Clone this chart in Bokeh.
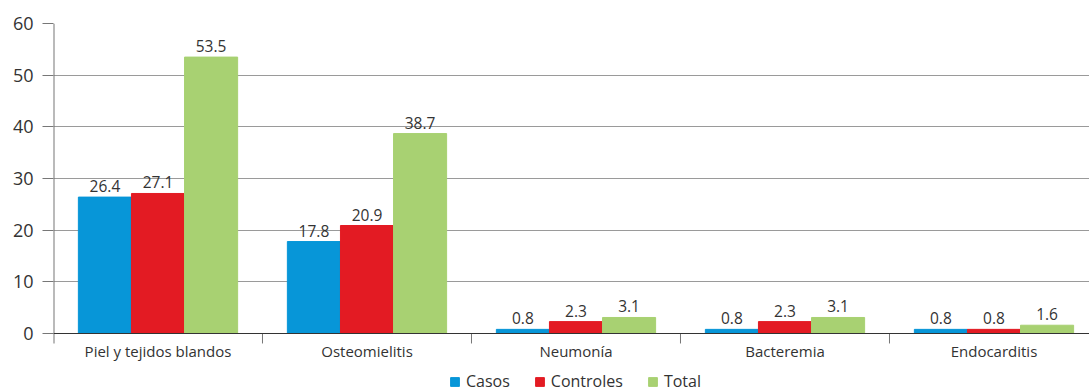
from bokeh.plotting import figure
from bokeh.models import ColumnDataSource, Range1d, FixedTicker, Span, Legend, LegendItem, LabelSet
from bokeh.core.properties import value
from bokeh.embed import file_html
from bokeh.resources import INLINE

categories = ["Piel y tejidos blandos", "Osteomielitis", "Neumonía", "Bacteremia", "Endocarditis"]
casos = [26.4, 17.8, 0.8, 0.8, 0.8]
controles = [27.1, 20.9, 2.3, 2.3, 0.8]
total = [53.5, 38.7, 3.1, 3.1, 1.6]
series_names = ["Casos", "Controles", "Total"]
colors = ["#0796d8", "#e31b23", "#a8d172"]
y_ticks = [0, 10, 20, 30, 40, 50, 60]

FONT = "Open Sans"
TXT = "#333333"
Y_AXIS_BOTTOM = -1.93

p = figure(width=1089, height=392, frame_width=1036, frame_height=369,
           output_backend="svg", toolbar_location=None,
           x_range=Range1d(0, 4.957), y_range=Range1d(-11.42, 60),
           min_border_left=53, min_border_top=23, min_border_right=0, min_border_bottom=0)
p.outline_line_color = None
p.background_fill_color = "white"

bw = 0.254
items = []
for k, (name, vals, col) in enumerate(zip(series_names, [casos, controles, total], colors)):
    xs = [i + 0.5 + (k - 1) * bw for i in range(len(categories))]
    src = ColumnDataSource(dict(x=xs, top=vals, lab=[f"{v:.1f}" for v in vals]))
    r = p.vbar(x="x", top="top", bottom=0, width=bw, color=col, source=src)
    items.append(LegendItem(label=name, renderers=[r]))
    p.add_layout(LabelSet(x="x", y="top", text="lab", source=src, text_align="center",
                          text_baseline="bottom", y_offset=5, text_font=value(FONT),
                          text_font_size=value("15.5px"), text_color=value(TXT)))

# zero line
p.add_layout(Span(location=0, dimension="width", line_color="#333333", line_width=1.2))
# y axis line
p.segment(x0=[0], y0=[Y_AXIS_BOTTOM], x1=[0], y1=[60], line_color="#777777", line_width=2)
# category boundary ticks
p.segment(x0=[1, 2, 3, 4], y0=[0] * 4, x1=[1, 2, 3, 4], y1=[Y_AXIS_BOTTOM] * 4,
          line_color="#777777", line_width=1)
# category labels
p.text(x=[i + 0.5 for i in range(len(categories))], y=[-1.5] * len(categories), text=categories,
       text_align="center", text_baseline="top", text_font=value(FONT),
       text_font_size=value("15px"), text_color=TXT)

# y axis
p.yaxis.ticker = FixedTicker(ticks=y_ticks)
p.yaxis.axis_line_color = None
p.yaxis.major_tick_line_color = "#777777"
p.yaxis.major_tick_out = 11
p.yaxis.major_tick_in = 0
p.yaxis.minor_tick_line_color = None
p.yaxis.major_label_standoff = 9
p.yaxis.major_label_text_font = FONT
p.yaxis.major_label_text_font_size = "18px"
p.yaxis.major_label_text_color = TXT
p.ygrid.ticker = FixedTicker(ticks=y_ticks[1:])
p.ygrid.grid_line_color = "#9a9a9a"
p.ygrid.grid_line_width = 1
p.xgrid.grid_line_color = None
p.xaxis.visible = False

legend = Legend(items=items, orientation="horizontal", location=(396, 0),
                label_text_font=FONT, label_text_font_size="16px", label_text_color=TXT,
                glyph_width=11, glyph_height=11, label_standoff=6, spacing=24,
                padding=0, margin=0, border_line_color=None, background_fill_alpha=0,
                label_height=11)
p.add_layout(legend, "center")

open("out.html", "w").write(file_html(p, INLINE))
